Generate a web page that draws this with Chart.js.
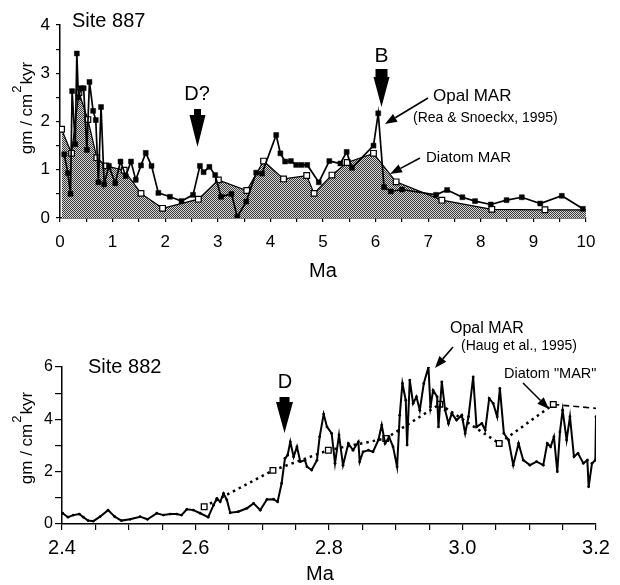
<!DOCTYPE html>
<html><head><meta charset="utf-8">
<script src="https://cdn.jsdelivr.net/npm/chart.js@4.4.1/dist/chart.umd.min.js"></script>
<style>
html,body{margin:0;padding:0;background:#fff;}
#wrap{position:relative;width:620px;height:585px;overflow:hidden;background:#fff;}
canvas{position:absolute;left:0;}
</style></head><body>
<div id="wrap">
<canvas id="top" width="620" height="292" style="top:0"></canvas>
<canvas id="bot" width="620" height="293" style="top:292px"></canvas>
</div>
<script>
const FONT = '"Liberation Sans", Arial, Helvetica, sans-serif';

// ---- Site 887 ----
const opal887Ma  = [0.08,0.15,0.20,0.23,0.29,0.32,0.35,0.40,0.45,0.51,0.56,0.63,0.68,0.73,0.78,0.84,0.93,1.05,1.15,1.25,1.35,1.44,1.54,1.63,1.74,1.87,2.09,2.31,2.53,2.66,2.73,2.84,2.95,3.06,3.26,3.37,3.54,3.73,3.84,4.11,4.19,4.28,4.39,4.49,4.59,4.70,4.92,5.12,5.33,5.45,5.55,5.96,6.05,6.16,6.29,6.50,7.15,7.36,7.65,7.89,8.19,8.49,8.78,9.13,9.54,9.94];
const opal887Val = [1.32,0.93,0.50,2.63,1.53,3.41,2.50,2.69,2.69,1.41,2.82,2.22,2.03,0.74,2.30,0.70,1.08,0.72,1.17,0.87,1.17,0.79,1.09,1.35,1.08,0.52,0.44,0.35,0.48,1.08,0.95,1.06,0.89,0.44,0.50,0.02,0.34,0.94,0.92,1.72,1.34,1.17,1.18,1.10,1.10,1.10,0.74,1.18,1.13,1.37,1.04,1.50,2.17,0.64,0.55,0.59,0.48,0.58,0.43,0.35,0.28,0.37,0.43,0.30,0.46,0.19];
const diat887Ma  = [0.03,0.22,0.36,0.53,0.70,0.87,1.22,1.54,1.95,2.63,3.01,3.55,3.87,4.25,4.69,4.83,5.17,5.46,5.96,6.39,7.26,8.21,9.22,10.0];
const diat887Val = [1.84,1.34,2.60,2.04,1.25,1.08,0.99,0.51,0.20,0.39,0.79,0.57,1.18,0.81,0.88,0.51,0.89,1.15,1.34,0.75,0.37,0.18,0.17,0.17];
const ticks887X = [0,1,2,3,4,5,6,7,8,9,10];
const ticks887Y = [0,1,2,3,4];

// ---- Site 882 ----
const opal882Ma = [2.401,2.409,2.417,2.426,2.432,2.439,2.447,2.457,2.469,2.479,2.489,2.502,2.517,2.528,2.542,2.552,2.562,2.572,2.579,2.587,2.597,2.607,2.619,2.627,2.632,2.637,2.642,2.647,2.652,2.664,2.677,2.687,2.697,2.707,2.717,2.723,2.729,2.734,2.738,2.742,2.747,2.752,2.757,2.764,2.767,2.774,2.782,2.786,2.792,2.797,2.804,2.809,2.815,2.821,2.829,2.836,2.844,2.846,2.851,2.859,2.866,2.874,2.879,2.884,2.890,2.896,2.902,2.906,2.910,2.915,2.917,2.921,2.926,2.931,2.936,2.942,2.949,2.952,2.956,2.962,2.964,2.969,2.974,2.979,2.984,2.991,2.999,3.004,3.009,3.016,3.021,3.029,3.034,3.040,3.046,3.052,3.056,3.062,3.069,3.076,3.084,3.091,3.101,3.111,3.121,3.127,3.132,3.137,3.142,3.146,3.150,3.156,3.161,3.167,3.173,3.181,3.187,3.189,3.194,3.199,3.200];
const opal882Val = [0.41,0.26,0.34,0.38,0.26,0.13,0.11,0.28,0.53,0.28,0.13,0.18,0.28,0.18,0.41,0.34,0.38,0.38,0.34,0.56,0.53,0.41,0.26,0.72,0.98,0.85,1.17,0.92,0.43,0.47,0.60,0.79,0.53,0.94,0.95,0.85,1.55,2.51,2.63,3.14,2.57,2.95,2.38,2.44,2.19,2.06,2.44,3.33,4.20,3.71,3.46,2.32,3.40,2.25,3.08,2.82,3.14,2.38,2.76,2.82,2.76,3.21,3.78,3.08,3.33,2.95,2.19,4.16,5.37,4.73,3.02,5.50,4.61,4.86,4.35,5.37,6.00,4.48,5.11,4.86,3.71,5.43,4.35,3.84,4.23,3.97,4.16,3.46,4.10,5.62,3.71,3.84,3.59,4.80,4.61,4.10,5.18,3.46,3.21,2.25,3.08,2.44,2.25,2.38,2.25,3.08,2.95,3.33,2.00,3.52,4.35,3.21,4.10,2.57,2.70,2.32,2.44,1.42,2.32,2.44,4.10];
const diat882Ma  = [2.613,2.716,2.799,2.885,2.966,3.055,3.136,3.200];
const diat882Val = [0.66,2.05,2.82,3.27,4.58,3.08,4.57,4.42];

const pts = (xs, ys) => xs.map((x, i) => ({x: x, y: ys[i]}));

// stipple pattern for shaded area
function makePattern(){
  const c = document.createElement('canvas'); c.width = 2; c.height = 2;
  const g = c.getContext('2d');
  g.fillStyle = '#d6d6d6'; g.fillRect(0,0,2,2);
  g.fillStyle = '#3a3a3a'; g.fillRect(0,0,1,1); g.fillRect(1,1,1,1);
  return document.getElementById('top').getContext('2d').createPattern(c, 'repeat');
}

function bigArrow(ctx, cx, yTop, stemH, yTip, stemW, headW){
  ctx.beginPath();
  ctx.moveTo(cx - stemW/2, yTop);
  ctx.lineTo(cx + stemW/2, yTop);
  ctx.lineTo(cx + stemW/2, yTop + stemH);
  ctx.lineTo(cx + headW/2, yTop + stemH);
  ctx.lineTo(cx, yTip);
  ctx.lineTo(cx - headW/2, yTop + stemH);
  ctx.lineTo(cx - stemW/2, yTop + stemH);
  ctx.closePath();
  ctx.fillStyle = '#000'; ctx.fill();
}
function smallArrow(ctx, x1, y1, x2, y2){
  const a = Math.atan2(y2 - y1, x2 - x1);
  const L = 12, W = 4.5;
  const bx = x2 - L*Math.cos(a), by = y2 - L*Math.sin(a);
  ctx.strokeStyle = '#000'; ctx.lineWidth = 1.6;
  ctx.beginPath(); ctx.moveTo(x1, y1); ctx.lineTo(bx, by); ctx.stroke();
  ctx.beginPath();
  ctx.moveTo(x2, y2);
  ctx.lineTo(bx + W*Math.sin(a), by - W*Math.cos(a));
  ctx.lineTo(bx - W*Math.sin(a), by + W*Math.cos(a));
  ctx.closePath(); ctx.fillStyle = '#000'; ctx.fill();
}
function text(ctx, s, x, y, size, align){
  ctx.font = size + 'px ' + FONT;
  ctx.fillStyle = '#000';
  ctx.textAlign = align || 'left';
  ctx.textBaseline = 'alphabetic';
  ctx.fillText(s, x, y);
}
function yTitle(ctx, cx, cy, size){
  ctx.save();
  ctx.translate(cx, cy);
  ctx.rotate(-Math.PI/2);
  ctx.font = size + 'px ' + FONT;
  const a = 'gm / cm', b = '2', c = 'kyr';
  const wa = ctx.measureText(a).width, wc = ctx.measureText(c).width;
  ctx.font = Math.round(size*0.75) + 'px ' + FONT;
  const wb = ctx.measureText(b).width;
  const tot = wa + wb + wc + 2;
  let x = -tot/2;
  ctx.fillStyle = '#000'; ctx.textAlign = 'left'; ctx.textBaseline = 'middle';
  ctx.font = size + 'px ' + FONT; ctx.fillText(a, x, 0); x += wa + 1;
  ctx.font = Math.round(size*0.75) + 'px ' + FONT; ctx.fillText(b, x, -size*0.55); x += wb + 1;
  ctx.font = size + 'px ' + FONT; ctx.fillText(c, x, 0);
  ctx.restore();
}

const axisCommon = (tickLen) => ({
  grid: {display: true, drawOnChartArea: false, drawTicks: true, tickLength: tickLen, color: '#000', tickColor: '#000', lineWidth: 1.2},
  border: {display: true, color: '#000', width: 1.5}
});

// ---------- Top chart ----------
const topAnno = {
  id: 'topAnno',
  afterDraw(chart){
    const ctx = chart.ctx; ctx.save();
    text(ctx, 'Site 887', 72, 27, 20);
    text(ctx, 'D?', 197, 100, 20, 'center');
    bigArrow(ctx, 197.5, 109, 6, 147, 7, 16);
    text(ctx, 'B', 381.5, 62, 21, 'center');
    bigArrow(ctx, 381.5, 69, 8, 107, 12, 16);
    text(ctx, 'Opal MAR', 433, 101, 17);
    text(ctx, '(Rea & Snoeckx, 1995)', 413, 122, 14);
    smallArrow(ctx, 428, 98, 385, 124);
    text(ctx, 'Diatom MAR', 426, 162, 15);
    smallArrow(ctx, 420, 158, 390, 174);
    yTitle(ctx, 27, 108, 17);
    text(ctx, 'Ma', 323, 277, 20, 'center');
    ctx.restore();
  }
};

new Chart(document.getElementById('top'), {
  type: 'line',
  data: {
    datasets: [
      {label: 'Opal MAR', data: pts(opal887Ma, opal887Val), borderColor: '#000', borderWidth: 1.7,
       pointStyle: 'rect', pointRadius: 3.5, pointBackgroundColor: '#000', pointBorderColor: '#000', pointBorderWidth: 0.5,
       fill: false, tension: 0},
      {label: 'Diatom MAR', data: pts(diat887Ma, diat887Val), borderColor: '#000', borderWidth: 1.2,
       pointStyle: 'rect', pointBackgroundColor: '#fff', pointBorderColor: '#000', pointBorderWidth: 1.2,
       pointRadius: diat887Ma.map((v,i) => i === diat887Ma.length-1 ? 0 : 4),
       fill: 'origin', backgroundColor: makePattern(), tension: 0}
    ]
  },
  options: {
    responsive: false, animation: false, devicePixelRatio: 1,
    layout: {padding: {left: 0, top: 25, right: 34, bottom: 0}},
    plugins: {legend: {display: false}, tooltip: {enabled: false}},
    scales: {
      x: Object.assign({type: 'linear', min: 0, max: 10,
        ticks: {stepSize: 0.5, autoSkip: false, maxRotation: 0, padding: 10, color: '#000', font: {family: FONT, size: 17},
          callback: (v) => ticks887X.includes(v) ? String(v) : ''},
        afterFit: (s) => { s.height = 292 - 218; }}, axisCommon(4)),
      y: Object.assign({type: 'linear', min: 0, max: 4,
        ticks: {stepSize: 0.5, autoSkip: false, padding: 6, color: '#000', font: {family: FONT, size: 17},
          callback: (v) => ticks887Y.includes(v) ? String(v) : ''},
        afterFit: (s) => { s.width = 60; }}, axisCommon(4))
    }
  },
  plugins: [topAnno]
});

// ---------- Bottom chart ----------
const botAnno = {
  id: 'botAnno',
  afterDraw(chart){
    const ctx = chart.ctx; ctx.save();
    text(ctx, 'Site 882', 88, 81, 20);
    text(ctx, 'D', 285, 96, 20, 'center');
    bigArrow(ctx, 284.5, 105, 5, 141, 10, 17);
    text(ctx, 'Opal MAR', 450, 41, 16);
    text(ctx, '(Haug et al., 1995)', 461, 58, 14);
    smallArrow(ctx, 453, 55, 435, 76);
    text(ctx, 'Diatom "MAR"', 504, 86, 14.5);
    smallArrow(ctx, 523, 91, 549, 117);
    yTitle(ctx, 27, 146, 17);
    text(ctx, 'Ma', 320, 288, 20, 'center');
    ctx.restore();
  }
};

new Chart(document.getElementById('bot'), {
  type: 'line',
  data: {
    datasets: [
      {label: 'Opal MAR', data: pts(opal882Ma, opal882Val), borderColor: '#000', borderWidth: 2,
       pointStyle: 'circle', pointRadius: 1.4, pointBackgroundColor: '#000', pointBorderWidth: 0,
       fill: false, tension: 0},
      {label: 'Diatom "MAR"', data: pts(diat882Ma, diat882Val), borderColor: '#000', borderWidth: 2.5,
       borderDash: [2.5, 4],
       segment: {borderDash: (c) => c.p0DataIndex >= diat882Ma.length - 2 ? [6, 4] : [2.5, 4],
                 borderWidth: (c) => c.p0DataIndex >= diat882Ma.length - 2 ? 1.6 : 2.5},
       pointStyle: 'rect', pointBackgroundColor: '#fff', pointBorderColor: '#000', pointBorderWidth: 1.3,
       pointRadius: diat882Ma.map((v,i) => i === diat882Ma.length-1 ? 0 : 4),
       fill: false, tension: 0}
    ]
  },
  options: {
    responsive: false, animation: false, devicePixelRatio: 1,
    layout: {padding: {left: 0, top: 75, right: 24, bottom: 0}},
    plugins: {legend: {display: false}, tooltip: {enabled: false}},
    scales: {
      x: Object.assign({type: 'linear', min: 2.4, max: 3.2,
        ticks: {stepSize: 0.05, autoSkip: false, maxRotation: 0, padding: 6, color: '#000', font: {family: FONT, size: 20},
          callback: (v) => { const r = Math.round(v*100); return (r % 20 === 0) ? (r/100).toFixed(1) : ''; }},
        afterFit: (s) => { s.height = 293 - 232; }}, axisCommon(6)),
      y: Object.assign({type: 'linear', min: 0, max: 6,
        ticks: {stepSize: 1, autoSkip: false, padding: 2, color: '#000', font: {family: FONT, size: 16},
          callback: (v) => (Math.round(v) % 2 === 0) ? String(v) : ''},
        afterFit: (s) => { s.width = 62; }}, axisCommon(7))
    }
  },
  plugins: [botAnno]
});
</script>
</body></html>
